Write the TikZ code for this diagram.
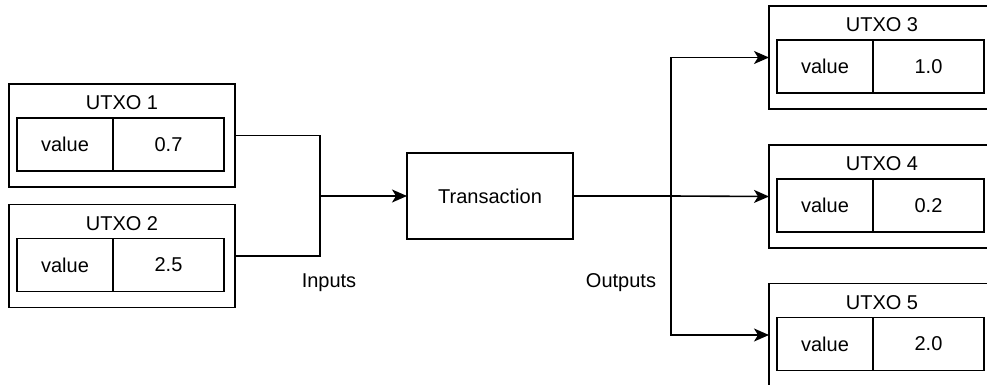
\documentclass[tikz,border=0pt]{standalone}
\usepackage{fontspec}
\setmainfont{Liberation Sans}
\usetikzlibrary{arrows.meta}

\tikzset{
  outerbox/.style={draw, line width=1.6pt, minimum width=226pt, minimum height=103pt, inner sep=0pt, outer sep=0pt},
  cellbox/.style={draw, line width=1.6pt, minimum height=53pt, inner sep=0pt, outer sep=0pt, font=\fontsize{20}{24}\selectfont},
  titletext/.style={inner sep=0pt, font=\fontsize{20}{24}\selectfont},
  txbox/.style={draw, line width=1.6pt, minimum width=166pt, minimum height=86pt, inner sep=0pt, outer sep=0pt, font=\fontsize{20}{24}\selectfont},
  label/.style={inner sep=0pt, font=\fontsize{20}{24}\selectfont},
  wire/.style={line width=1.6pt},
  arrowwire/.style={line width=1.6pt, -{Stealth[length=15pt,width=13pt,inset=4pt]}},
}

% name, centre x, centre y, title, amount
\newcommand\utxobox[5]{%
  \node[outerbox] (#1) at (#2,#3) {};
  \node[titletext] (#1-t) at ([yshift=-19pt]#1.north) {#4};
  \node[cellbox, minimum width=96pt, anchor=north west] (#1-k) at ([xshift=8pt,yshift=-34pt]#1.north west) {value};
  \node[cellbox, minimum width=111pt, anchor=north west] (#1-v) at (#1-k.north east) {#5};
}

\begin{document}
\begin{tikzpicture}[x=1pt, y=-1pt]
\useasboundingbox (0,0) rectangle (987,385);

% inputs
\utxobox{u1}{122}{135.5}{UTXO 1}{0.7}
\utxobox{u2}{122}{256}{UTXO 2}{2.5}

% transaction
\node[txbox] (tx) at (490,196) {Transaction};

% outputs
\utxobox{u3}{882}{57.5}{UTXO 3}{1.0}
\utxobox{u4}{882}{196.5}{UTXO 4}{0.2}
\utxobox{u5}{882}{335}{UTXO 5}{2.0}

% junction points
\coordinate (jin) at (320,196);
\coordinate (jout) at (671,196);

% input wiring
\draw[wire] (u1.east) -| (jin);
\draw[wire] (u2.east) -| (jin);
\draw[arrowwire] (jin) -- (tx.west);

% output wiring
\draw[wire] (tx.east) -- (jout);
\draw[arrowwire] (jout) |- (u3.west);
\draw[arrowwire] (jout) -- (u4.west);
\draw[arrowwire] (jout) |- (u5.west);

% labels
\node[label] (lin) at (329,283) {Inputs};
\node[label] (lout) at (621,283) {Outputs};
\end{tikzpicture}
\end{document}
